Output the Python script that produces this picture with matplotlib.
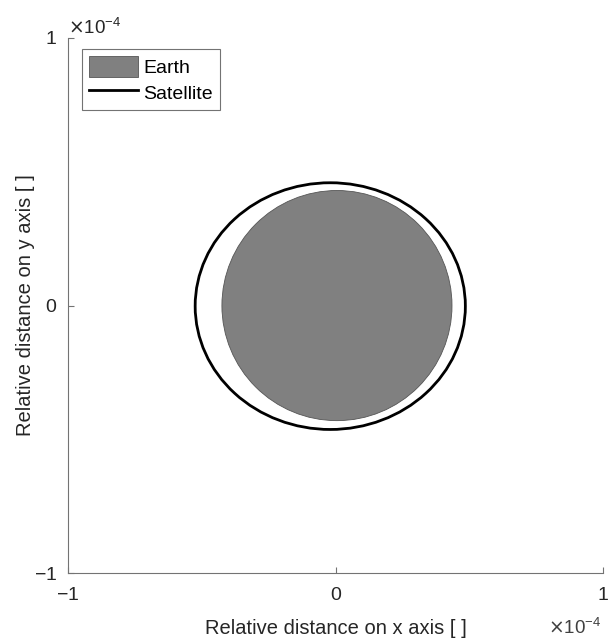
import matplotlib
matplotlib.use("Agg")
import matplotlib.pyplot as plt
from matplotlib.patches import Circle, Ellipse
from matplotlib.lines import Line2D
from matplotlib.ticker import ScalarFormatter

plt.rcParams['font.family'] = ['Liberation Sans', 'DejaVu Sans']

# earth (disk) and satellite orbit (ellipse), in units of the axes
earth_center = (0.005e-4, 0.0)
earth_radius = 0.43e-4
orbit_center = (-0.02e-4, -0.002e-4)
orbit_width = 1.01e-4
orbit_height = 0.922e-4

xlims = [-1e-4, 1e-4]
ylims = [-1e-4, 1e-4]
ticks = [-1e-4, 0, 1e-4]

fig = plt.figure(figsize=(6.08, 6.44), dpi=100)
ax = fig.add_axes([0.112, 0.110, 0.880, 0.831])

earth = Circle(earth_center, earth_radius, facecolor='#808080', edgecolor='#555555', linewidth=0.6)
ax.add_patch(earth)
orbit = Ellipse(orbit_center, orbit_width, orbit_height, facecolor='none', edgecolor='black', linewidth=2)
ax.add_patch(orbit)

ax.set_xlim(xlims)
ax.set_ylim(ylims)
ax.set_xticks(ticks)
ax.set_yticks(ticks)
for axis in [ax.xaxis, ax.yaxis]:
    fmt = ScalarFormatter(useMathText=True)
    fmt.set_powerlimits((-3, 3))
    axis.set_major_formatter(fmt)
    axis.get_offset_text().set_fontsize(13.5)
    axis.get_offset_text().set_color('0.25')
# x offset text sits lower in the reference, place by hand
ax.xaxis.get_offset_text().set_visible(False)
fig.text(548 / 608, 1 - 628 / 644, r"$\times\mathdefault{10^{-4}}$", fontsize=13.5,
         color='0.25', ha='left', va='center')

ax.spines['top'].set_visible(False)
ax.spines['right'].set_visible(False)
for s in ['left', 'bottom']:
    ax.spines[s].set_color('0.45')
ax.tick_params(direction='in', length=4, color='0.45', labelcolor='0.15', labelsize=14)
ax.tick_params(axis='x', pad=10)
ax.tick_params(axis='y', pad=8)

ax.set_xlabel("Relative distance on x axis [ ]", fontsize=14.5, color='0.15', labelpad=11)
ax.set_ylabel("Relative distance on y axis [ ]", fontsize=14.5, color='0.15', labelpad=-1)

handles = [
    plt.Rectangle((0, 0), 1, 1, facecolor='#808080', edgecolor='#555555', linewidth=0.6),
    Line2D([0], [0], color='black', linewidth=2),
]
leg = ax.legend(handles, ["Earth", "Satellite"], loc='upper left', fontsize=14,
                fancybox=False, edgecolor='0.45', framealpha=1, borderpad=0.35,
                handlelength=2.5, handleheight=1.3, handletextpad=0.3, labelspacing=0.25,
                bbox_to_anchor=(0.008, 0.998))
leg.get_frame().set_linewidth(0.8)

fig.savefig("out.png", dpi=100)
